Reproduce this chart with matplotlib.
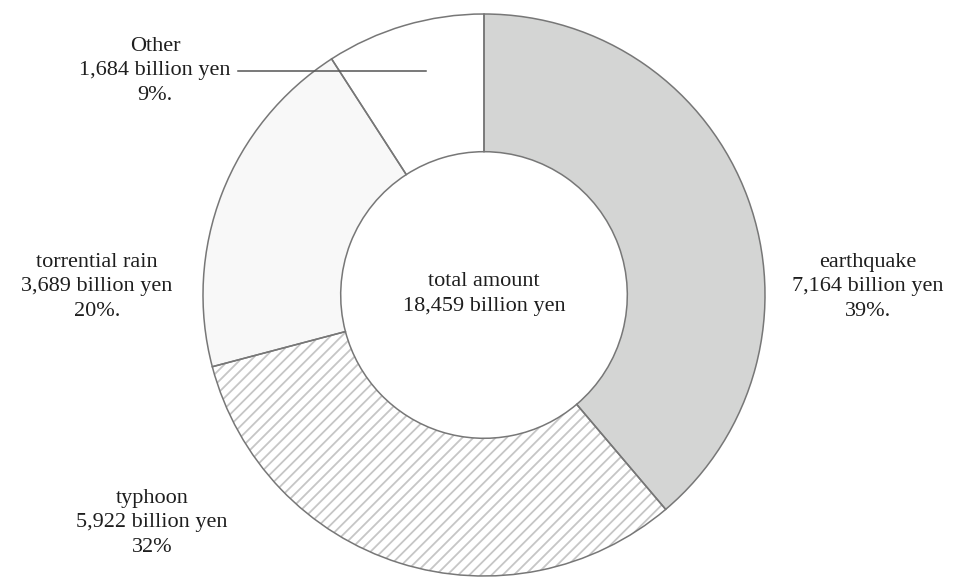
import matplotlib.pyplot as plt

plt.rcParams['font.family'] = ['Liberation Serif', 'DejaVu Serif']

# disaster damage breakdown (billion yen)
categories = ['earthquake', 'typhoon', 'torrential rain', 'Other']
amounts = [7164, 5922, 3689, 1684]
pct_labels = ['39%.', '32%', '20%.', '9%.']
total = 18459

fills = ['#d4d5d4', 'white', '#f8f8f8', 'white']

W, H = 965, 580
fig = plt.figure(figsize=(W / 100, H / 100), dpi=100)
ax = fig.add_axes([0, 0, 1, 1])

cx, cy = 484, H - 295
R = 281
ring = 0.49

plt.rcParams['hatch.linewidth'] = 1.3
# hatch layer (hatch uses the edge colour, so draw it separately)
wedges_h, _ = ax.pie(amounts, startangle=90, counterclock=False, center=(cx, cy),
                     radius=R, colors=fills, frame=True,
                     wedgeprops=dict(width=R * ring, linewidth=0, edgecolor='#c6c6c6'))
for i, w in enumerate(wedges_h):
    if categories[i] == 'typhoon':
        w.set_hatch('///')
# outline layer
ax.pie(amounts, startangle=90, counterclock=False, center=(cx, cy),
       radius=R, colors=['none'] * 4, frame=True,
       wedgeprops=dict(width=R * ring, linewidth=1.1, edgecolor='#777777'))
ax.set_xlim(0, W)
ax.set_ylim(0, H)
ax.set_aspect('equal')
ax.axis('off')

fs = 16
label_pos = [(868, 287), (152, 523), (97, 287), (155, 71)]
for cat, amt, pct, (x, y) in zip(categories, amounts, pct_labels, label_pos):
    ax.text(x, H - y, f'{cat}\n{amt:,} billion yen\n{pct}', ha='center', va='center',
            fontsize=fs, color='#1e1e1e', linespacing=1.42)

ax.text(cx, cy + 1, f'total amount\n{total:,} billion yen', ha='center', va='center',
        fontsize=fs, color='#1e1e1e', linespacing=1.4)

# leader line for "Other"
ax.plot([238, 426], [H - 71, H - 71], color='#555555', lw=1.1)

fig.savefig('out.png', dpi=100, facecolor='white')
